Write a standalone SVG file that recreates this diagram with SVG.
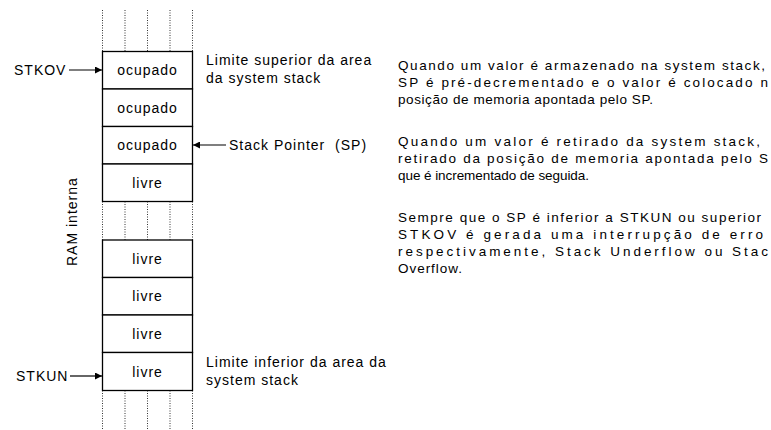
<svg xmlns="http://www.w3.org/2000/svg" width="771" height="430" viewBox="0 0 771 430">
  <style>
    text { font-family: "Liberation Sans", Arial, sans-serif; fill: #000; }
    .lbl { font-size: 14px; letter-spacing: 1px; }
    .cell { fill: #fff; stroke: #000; stroke-width: 1.3; }
    .cell-text { font-size: 14px; letter-spacing: 1px; text-anchor: middle; }
    .dots { stroke: #333; stroke-width: 1; stroke-dasharray: 1 1.5; fill: none; }
    .edge { stroke: #000; stroke-width: 1.2; fill: none; }
    .para { font-size: 13.5px; }
  </style>
  <defs>
    <marker id="arrow" viewBox="0 0 10 10" refX="10" refY="5" markerWidth="9" markerHeight="7" markerUnits="userSpaceOnUse" orient="auto">
      <path d="M0,0 L10,5 L0,10 z" fill="#000"/>
    </marker>
  </defs>

  <!-- dotted memory continuation above, between and below the stack area -->
  <g id="memory-dots" class="dots">
    <path d="M102.5,10 V51.5 M125,10 V51.5 M147.5,10 V51.5 M170,10 V51.5 M192.5,10 V51.5"/>
    <path d="M102.5,201.5 V240 M125,201.5 V240 M147.5,201.5 V240 M170,201.5 V240 M192.5,201.5 V240"/>
    <path d="M102.5,390.5 V430 M125,390.5 V430 M147.5,390.5 V430 M170,390.5 V430 M192.5,390.5 V430"/>
  </g>

  <!-- upper block of cells -->
  <g id="cell-1"><rect class="cell" x="102.5" y="51.5" width="90" height="37.5"/><text class="cell-text" x="147.5" y="75">ocupado</text></g>
  <g id="cell-2"><rect class="cell" x="102.5" y="89" width="90" height="37.5"/><text class="cell-text" x="147.5" y="112.5">ocupado</text></g>
  <g id="cell-3"><rect class="cell" x="102.5" y="126.5" width="90" height="37.5"/><text class="cell-text" x="147.5" y="150">ocupado</text></g>
  <g id="cell-4"><rect class="cell" x="102.5" y="164" width="90" height="37.5"/><text class="cell-text" x="147.5" y="187.5">livre</text></g>

  <!-- lower block of cells -->
  <g id="cell-5"><rect class="cell" x="102.5" y="240" width="90" height="37.5"/><text class="cell-text" x="147.5" y="263.5">livre</text></g>
  <g id="cell-6"><rect class="cell" x="102.5" y="277.5" width="90" height="37.5"/><text class="cell-text" x="147.5" y="301">livre</text></g>
  <g id="cell-7"><rect class="cell" x="102.5" y="315" width="90" height="37.5"/><text class="cell-text" x="147.5" y="338.5">livre</text></g>
  <g id="cell-8"><rect class="cell" x="102.5" y="352.5" width="90" height="38"/><text class="cell-text" x="147.5" y="376.5">livre</text></g>

  <!-- pointer labels -->
  <g id="stkov"><text class="lbl" x="14" y="75">STKOV</text></g>
  <g id="stkun"><text class="lbl" x="16" y="381">STKUN</text></g>
  <g id="sp"><text class="lbl" x="229" y="150" xml:space="preserve">Stack Pointer  (SP)</text></g>

  <g id="connectors">
    <line class="edge" x1="69" y1="70" x2="102" y2="70" marker-end="url(#arrow)"/>
    <line class="edge" x1="70" y1="376" x2="102" y2="376" marker-end="url(#arrow)"/>
    <line class="edge" x1="226" y1="145" x2="193" y2="145" marker-end="url(#arrow)"/>
  </g>

  <g id="ram-label"><text class="lbl" transform="translate(77,266) rotate(-90)">RAM interna</text></g>

  <g id="upper-limit">
    <text class="lbl" x="206" y="65">Limite superior da area</text>
    <text class="lbl" x="206" y="83">da system stack</text>
  </g>
  <g id="lower-limit">
    <text class="lbl" x="206" y="367">Limite inferior da area da</text>
    <text class="lbl" x="206" y="385">system stack</text>
  </g>

  <!-- explanatory notes -->
  <g id="notes" class="para">
    <text x="398" y="70" textLength="367" lengthAdjust="spacing">Quando um valor é armazenado na system stack,</text>
    <text x="398" y="87" textLength="370" lengthAdjust="spacing">SP é pré-decrementado e o valor é colocado n</text>
    <text x="398" y="104" textLength="255" lengthAdjust="spacing">posição de memoria apontada pelo SP.</text>
    <text x="398" y="146" textLength="362" lengthAdjust="spacing">Quando um valor é retirado da system stack,</text>
    <text x="398" y="163" textLength="370" lengthAdjust="spacing">retirado da posição de memoria apontada pelo S</text>
    <text x="398" y="180" textLength="191" lengthAdjust="spacing">que é incrementado de seguida.</text>
    <text x="398" y="222" textLength="363" lengthAdjust="spacing">Sempre que o SP é inferior a STKUN ou superior</text>
    <text x="398" y="239" textLength="365" lengthAdjust="spacing">STKOV é gerada uma interrupção de erro</text>
    <text x="398" y="256" textLength="370" lengthAdjust="spacing">respectivamente, Stack Underflow ou Stac</text>
    <text x="398" y="273" textLength="64" lengthAdjust="spacing">Overflow.</text>
  </g>
</svg>
